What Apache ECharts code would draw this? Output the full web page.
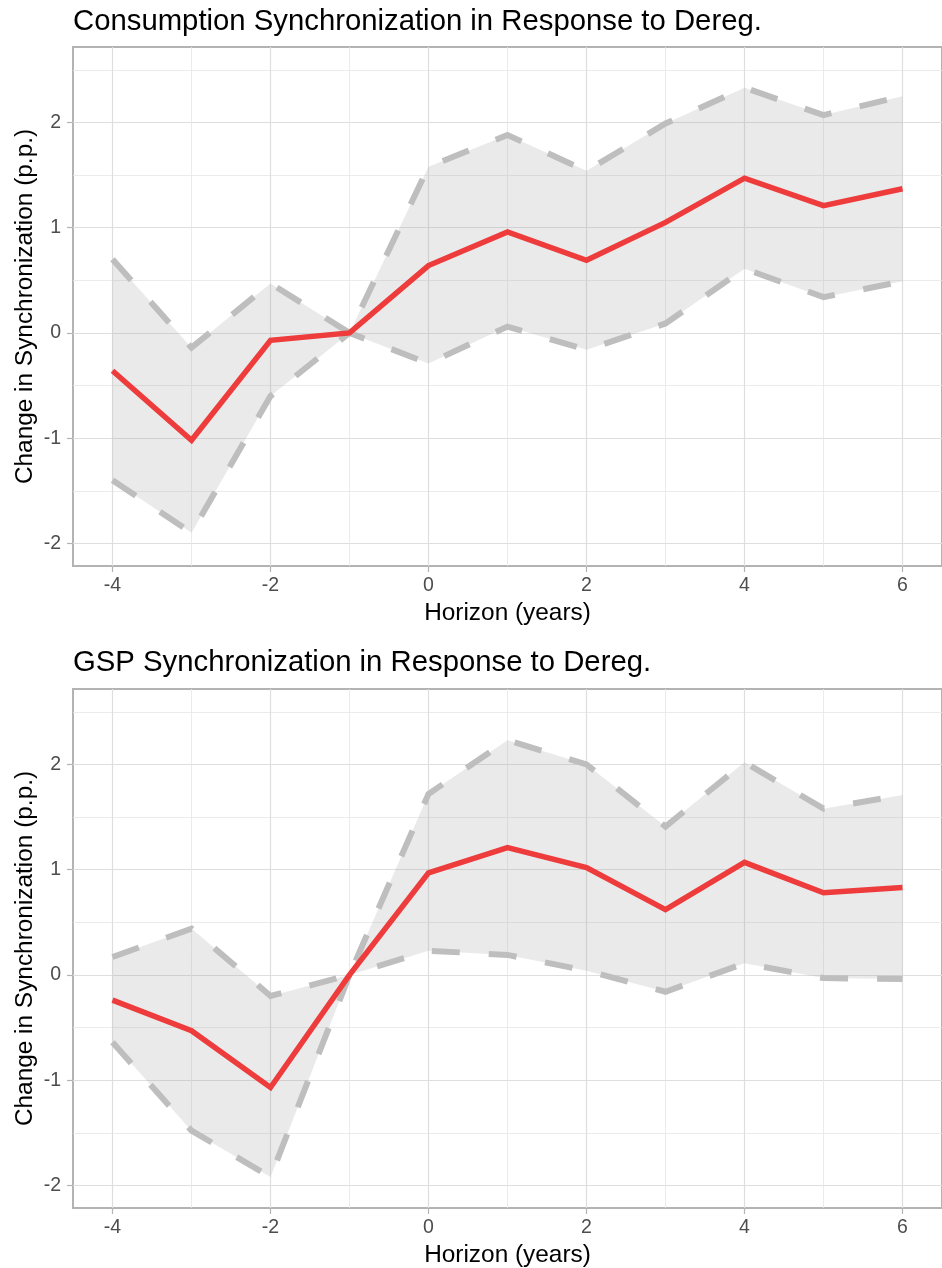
<!DOCTYPE html>
<html>
<head>
<meta charset="utf-8">
<title>Synchronization in Response to Deregulation</title>
<script src="https://cdn.jsdelivr.net/npm/echarts@6/dist/echarts.min.js"></script>
<style>
  html, body { margin: 0; padding: 0; background: #ffffff; }
  #chart { width: 942px; height: 1268px; }
</style>
</head>
<body>
<div id="chart"></div>
<script>
// Event-study horizon (years relative to deregulation)
const horizon = [-4, -3, -2, -1, 0, 1, 2, 3, 4, 5, 6];

// Consumption synchronization: point estimate and confidence band
const consEstimate = [-0.36, -1.02, -0.07, 0.00, 0.64, 0.96, 0.69, 1.05, 1.47, 1.21, 1.37];
const consLower    = [-1.40, -1.90, -0.60, 0.00, -0.29, 0.06, -0.16, 0.09, 0.61, 0.34, 0.49];
const consUpper    = [0.70, -0.14, 0.47, 0.00, 1.58, 1.88, 1.54, 1.99, 2.33, 2.07, 2.25];

// GSP synchronization: point estimate and confidence band
const gspEstimate = [-0.24, -0.53, -1.07, 0.00, 0.97, 1.21, 1.02, 0.62, 1.07, 0.78, 0.83];
const gspLower    = [-0.64, -1.48, -1.92, 0.00, 0.23, 0.19, 0.04, -0.16, 0.11, -0.03, -0.04];
const gspUpper    = [0.17, 0.44, -0.20, 0.00, 1.72, 2.23, 2.00, 1.41, 2.02, 1.58, 1.71];

// Axis breaks
const xMajor = [-4, -2, 0, 2, 4, 6];
const xMinor = [-3, -1, 1, 3, 5];
const yMajor = [-2, -1, 0, 1, 2];
const yMinor = [-1.5, -0.5, 0.5, 1.5, 2.5];
const xRange = [-4.5, 6.5];
const yRange = [-2.215, 2.717];

const panelTitles = [
  'Consumption Synchronization in Response to Dereg.',
  'GSP Synchronization in Response to Dereg.'
];
const xTitle = 'Horizon (years)';
const yTitle = 'Change in Synchronization (p.p.)';

const FONT = '"Liberation Sans", Arial, Helvetica, sans-serif';
const panels = [
  { top: 47, est: consEstimate, lo: consLower, hi: consUpper, titleTop: 7 },
  { top: 689, est: gspEstimate, lo: gspLower, hi: gspUpper, titleTop: 648 }
];
const PANEL_H = 519;

const pairs = (ys) => horizon.map((x, i) => [x, ys[i]]);

const option = {
  animation: false,
  backgroundColor: '#ffffff',
  title: [], grid: [], xAxis: [], yAxis: [], series: []
};

panels.forEach((p, k) => {
  option.title.push({
    text: panelTitles[k],
    left: 73, top: p.titleTop, padding: 0,
    textStyle: { fontFamily: FONT, fontSize: 29.3, fontWeight: 'normal', color: '#000000' }
  });
  option.grid.push({
    left: 73, top: p.top, width: 878, height: PANEL_H,
    show: true, borderColor: '#B3B3B3', borderWidth: 2, backgroundColor: 'transparent'
  });

  const gx = k * 2, gy = k * 2;
  // labelled x axis with major grid
  option.xAxis.push({
    type: 'value', gridIndex: k, min: xRange[0], max: xRange[1], position: 'bottom',
    name: xTitle, nameLocation: 'middle', nameGap: 35,
    nameTextStyle: { fontFamily: FONT, fontSize: 24.4, color: '#000000' },
    axisLine: { show: false, onZero: false },
    axisTick: { show: true, length: 6, customValues: xMajor, lineStyle: { color: '#B3B3B3', width: 1.2 } },
    axisLabel: { show: true, customValues: xMajor, margin: 10, fontFamily: FONT, fontSize: 19.5, color: '#4D4D4D' },
    splitLine: { show: true, lineStyle: { color: '#DEDEDE', width: 1.2 } }
  });
  // minor x grid
  option.xAxis.push({
    type: 'value', gridIndex: k, min: xRange[0], max: xRange[1], position: 'bottom',
    axisLine: { show: false, onZero: false },
    axisTick: { show: false, customValues: xMinor },
    axisLabel: { show: false, customValues: xMinor },
    splitLine: { show: true, lineStyle: { color: '#E6E6E6', width: 0.8 } }
  });
  // labelled y axis with major grid
  option.yAxis.push({
    type: 'value', gridIndex: k, min: yRange[0], max: yRange[1], position: 'left',
    name: yTitle, nameLocation: 'middle', nameGap: 36, nameMoveOverlap: false,
    nameTextStyle: { fontFamily: FONT, fontSize: 24.4, color: '#000000' },
    axisLine: { show: false, onZero: false },
    axisTick: { show: true, length: 6, customValues: yMajor, lineStyle: { color: '#B3B3B3', width: 1.2 } },
    axisLabel: { show: true, customValues: yMajor, margin: 12, fontFamily: FONT, fontSize: 19.5, color: '#4D4D4D' },
    splitLine: { show: true, lineStyle: { color: '#DEDEDE', width: 1.2 } }
  });
  // minor y grid
  option.yAxis.push({
    type: 'value', gridIndex: k, min: yRange[0], max: yRange[1], position: 'left',
    axisLine: { show: false, onZero: false },
    axisTick: { show: false, customValues: yMinor },
    axisLabel: { show: false, customValues: yMinor },
    splitLine: { show: true, lineStyle: { color: '#E6E6E6', width: 0.8 } }
  });

  const common = { xAxisIndex: gx, yAxisIndex: gy, symbol: 'none', silent: true };
  const bandRows = horizon.map((x, i) => [x, p.lo[i], p.hi[i]]);

  // confidence band: one polygon through the upper edge and back along the lower edge
  option.series.push({
    type: 'custom', xAxisIndex: gx, yAxisIndex: gy, silent: true, clip: true, z: 2,
    data: bandRows,
    encode: { x: 0, y: [1, 2] },
    renderItem: function (params, api) {
      if (params.dataIndex !== 0) return null;
      const upperPts = bandRows.map((r) => api.coord([r[0], r[2]]));
      const lowerPts = bandRows.slice().reverse().map((r) => api.coord([r[0], r[1]]));
      return {
        type: 'polygon',
        shape: { points: upperPts.concat(lowerPts) },
        style: { fill: 'rgba(160,160,160,0.22)', stroke: null }
      };
    }
  });
  // dashed band edges
  [p.hi, p.lo].forEach((edge) => {
    option.series.push(Object.assign({}, common, {
      type: 'line', data: pairs(edge),
      lineStyle: { color: '#BEBEBE', width: 6, type: [28, 29], cap: 'butt', join: 'miter' }, z: 3
    }));
  });
  // point estimate
  option.series.push(Object.assign({}, common, {
    type: 'line', data: pairs(p.est),
    lineStyle: { color: '#EE3B3B', width: 5.5, join: 'miter' }, z: 4
  }));
});

const chart = echarts.init(document.getElementById('chart'), null, { renderer: 'canvas', width: 942, height: 1268 });
chart.setOption(option);
</script>
</body>
</html>
